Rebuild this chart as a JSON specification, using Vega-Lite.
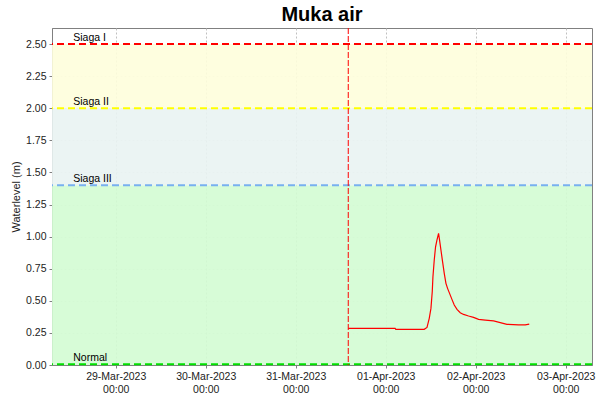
{
  "$schema": "https://vega.github.io/schema/vega-lite/v6.json",
  "width": 540,
  "height": 337,
  "autosize": "none",
  "padding": {"left": 52, "top": 28, "right": 8, "bottom": 35},
  "background": "white",
  "title": {"text": "Muka air", "fontSize": 20, "font": "Liberation Sans", "fontWeight": "bold", "color": "black", "anchor": "middle", "offset": 3},
  "config": {
    "view": {"stroke": "#808080", "strokeWidth": 1},
    "axis": {"labelFont": "Liberation Sans", "labelFontSize": 10.5, "labelColor": "#222222", "titleFont": "Liberation Sans", "titleFontSize": 11, "titleFontWeight": "normal", "titleColor": "#222222", "domainColor": "#808080", "tickColor": "#808080", "tickSize": 3, "labelFlush": false, "labelOverlap": false},
    "axisY": {"labelOverlap": false}
  },
  "datasets": {
    "bands": [
      {"v": 0, "hi": 1.4, "c": "#d3fcd3"},
      {"v": 1.4, "hi": 2.0, "c": "#e9f3f2"},
      {"v": 2.0, "hi": 2.5, "c": "#fefedb"}
    ],
    "levels": [
      {"v": 2.5, "name": "Siaga I", "c": "#ff0000", "t": "2023-03-28T12:40:00Z"},
      {"v": 2.0, "name": "Siaga II", "c": "#ffff00", "t": "2023-03-28T12:40:00Z"},
      {"v": 1.4, "name": "Siaga III", "c": "#78b0f0", "t": "2023-03-28T12:40:00Z"},
      {"v": 0.005, "name": "Normal", "c": "#00e000", "t": "2023-03-28T12:40:00Z"}
    ],
    "now": [{"t": "2023-03-31T14:00:00Z"}],
    "series": [
      {"t": "2023-03-31T14:00:00Z", "v": 0.286},
      {"t": "2023-04-01T02:30:00Z", "v": 0.286},
      {"t": "2023-04-01T02:40:00Z", "v": 0.278},
      {"t": "2023-04-01T10:15:00Z", "v": 0.278},
      {"t": "2023-04-01T11:00:00Z", "v": 0.293},
      {"t": "2023-04-01T11:36:00Z", "v": 0.364},
      {"t": "2023-04-01T12:03:00Z", "v": 0.441},
      {"t": "2023-04-01T12:24:00Z", "v": 0.571},
      {"t": "2023-04-01T12:35:00Z", "v": 0.688},
      {"t": "2023-04-01T12:56:00Z", "v": 0.818},
      {"t": "2023-04-01T13:17:00Z", "v": 0.921},
      {"t": "2023-04-01T13:39:00Z", "v": 0.973},
      {"t": "2023-04-01T14:05:00Z", "v": 1.026},
      {"t": "2023-04-01T14:21:00Z", "v": 0.973},
      {"t": "2023-04-01T14:43:00Z", "v": 0.896},
      {"t": "2023-04-01T15:09:00Z", "v": 0.805},
      {"t": "2023-04-01T15:36:00Z", "v": 0.714},
      {"t": "2023-04-01T16:03:00Z", "v": 0.636},
      {"t": "2023-04-01T16:29:00Z", "v": 0.597},
      {"t": "2023-04-01T17:01:00Z", "v": 0.558},
      {"t": "2023-04-01T17:39:00Z", "v": 0.511},
      {"t": "2023-04-01T18:16:00Z", "v": 0.467},
      {"t": "2023-04-01T19:00:00Z", "v": 0.433},
      {"t": "2023-04-01T19:52:00Z", "v": 0.407},
      {"t": "2023-04-01T20:45:00Z", "v": 0.394},
      {"t": "2023-04-01T22:05:00Z", "v": 0.382},
      {"t": "2023-04-01T23:25:00Z", "v": 0.371},
      {"t": "2023-04-02T00:45:00Z", "v": 0.355},
      {"t": "2023-04-02T02:32:00Z", "v": 0.350},
      {"t": "2023-04-02T04:45:00Z", "v": 0.343},
      {"t": "2023-04-02T06:32:00Z", "v": 0.330},
      {"t": "2023-04-02T08:19:00Z", "v": 0.317},
      {"t": "2023-04-02T11:25:00Z", "v": 0.312},
      {"t": "2023-04-02T13:12:00Z", "v": 0.312},
      {"t": "2023-04-02T14:16:00Z", "v": 0.319}
    ]
  },
  "encoding": {
    "x": {"field": "t", "type": "temporal",
      "scale": {"type": "utc", "domain": [{"year": 2023, "month": 3, "date": 28, "hours": 7, "utc": true}, {"year": 2023, "month": 4, "date": 3, "hours": 7, "utc": true}]},
      "axis": {"title": null, "labelOverlap": false,
        "values": [{"year": 2023, "month": 3, "date": 29, "utc": true}, {"year": 2023, "month": 3, "date": 30, "utc": true}, {"year": 2023, "month": 3, "date": 31, "utc": true}, {"year": 2023, "month": 4, "date": 1, "utc": true}, {"year": 2023, "month": 4, "date": 2, "utc": true}, {"year": 2023, "month": 4, "date": 3, "utc": true}],
        "labelExpr": "[utcFormat(datum.value, '%d-%b-%Y'), utcFormat(datum.value, '%H:%M')]", "labelLineHeight": 13, "gridColor": "#c0c0c0", "gridDash": [2, 2], "labelPadding": 3}},
    "y": {"field": "v", "type": "quantitative",
      "scale": {"domain": [0, 2.625], "nice": false, "zero": false},
      "axis": {"title": "Waterlevel (m)", "labelOverlap": false, "values": [0, 0.25, 0.5, 0.75, 1, 1.25, 1.5, 1.75, 2, 2.25, 2.5], "format": ".2f", "gridColor": "#dddddd", "gridDash": [2, 2], "titlePadding": 4, "labelPadding": 3}}
  },
  "layer": [
    {
      "data": {"name": "bands"},
      "mark": {"type": "rect", "opacity": 0.9},
      "encoding": {
        "x": null,
        "y2": {"field": "hi"},
        "color": {"field": "c", "type": "nominal", "scale": null}
      }
    },
    {
      "data": {"name": "levels"},
      "mark": {"type": "rule", "strokeWidth": 2, "strokeDash": [7, 4]},
      "encoding": {
        "x": null,
        "color": {"field": "c", "type": "nominal", "scale": null}
      }
    },
    {
      "data": {"name": "levels"},
      "mark": {"type": "text", "align": "left", "baseline": "bottom", "dy": -1, "font": "Liberation Sans", "fontSize": 10.5, "color": "black"},
      "encoding": {
        "text": {"field": "name"}
      }
    },
    {
      "data": {"name": "now"},
      "mark": {"type": "rule", "color": "red", "strokeWidth": 1, "strokeDash": [6, 2]},
      "encoding": {
        "y": null
      }
    },
    {
      "data": {"name": "series"},
      "mark": {"type": "line", "color": "red", "strokeWidth": 1.2},
      "encoding": {}
    }
  ]
}
